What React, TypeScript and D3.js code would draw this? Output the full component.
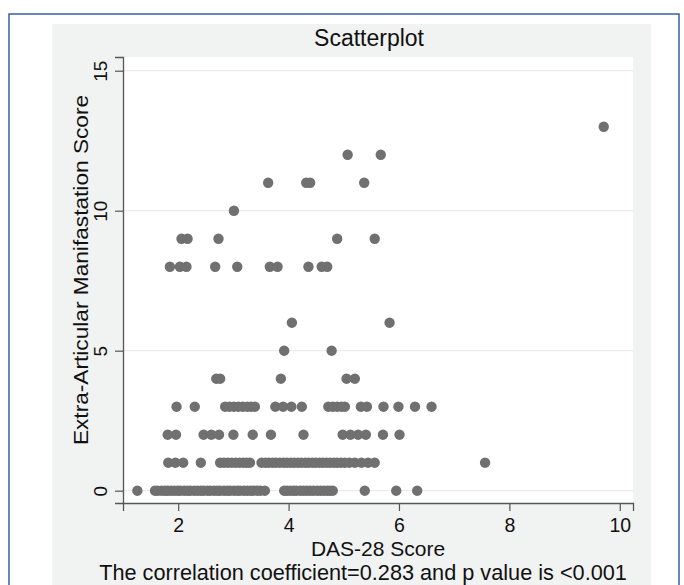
import React, { useEffect, useRef } from 'react';
import * as d3 from 'd3';

// DAS-28 score of each patient, grouped by extra-articular manifestation score
const das0 = [1.26, 1.58, 1.63, 1.70, 1.76, 1.81, 1.87, 1.93, 1.99, 2.04, 2.11, 2.17, 2.22, 2.29, 2.35, 2.41, 2.46,
  2.53, 2.58, 2.65, 2.71, 2.76, 2.83, 2.89, 2.94, 3.01, 3.07, 3.12, 3.19, 3.25, 3.31, 3.36, 3.43, 3.49, 3.57,
  3.92, 3.97, 4.03, 4.09, 4.14, 4.21, 4.27, 4.33, 4.39, 4.45, 4.52, 4.58, 4.64, 4.70, 4.75, 4.80, 5.38, 5.95, 6.33];
const das1 = [1.82, 1.95, 2.09, 2.41, 2.76, 2.83, 2.90, 2.97, 3.04, 3.11, 3.18, 3.24, 3.30, 3.51, 3.58, 3.64, 3.71,
  3.77, 3.84, 3.91, 3.97, 4.04, 4.10, 4.17, 4.23, 4.30, 4.36, 4.43, 4.49, 4.56, 4.62, 4.69, 4.75, 4.82, 4.88, 4.95,
  5.02, 5.10, 5.20, 5.32, 5.44, 5.56, 7.56];
const das2 = [1.81, 1.96, 2.46, 2.60, 2.74, 3.00, 3.35, 3.68, 4.27, 4.98, 5.12, 5.26, 5.40, 5.71, 6.01];
const das3 = [1.97, 2.30, 2.85, 2.93, 3.01, 3.09, 3.17, 3.25, 3.32, 3.39, 3.76, 3.90, 4.05, 4.24, 4.72, 4.80,
  4.88, 4.96, 5.02, 5.31, 5.42, 5.72, 5.99, 6.29, 6.59];
const das4 = [2.69, 2.76, 3.86, 5.05, 5.20];
const das5 = [3.92, 4.78];
const das6 = [4.06, 5.83];
const das8 = [1.85, 2.03, 2.15, 2.67, 3.07, 3.66, 3.80, 4.36, 4.60, 4.70];
const das9 = [2.06, 2.17, 2.73, 4.88, 5.56];
const das10 = [3.01];
const das11 = [3.63, 4.32, 4.39, 5.37];
const das12 = [5.07, 5.67];
const das13 = [9.71];

const eamLevels = [0, 1, 2, 3, 4, 5, 6, 8, 9, 10, 11, 12, 13];
const dasGroups = [das0, das1, das2, das3, das4, das5, das6, das8, das9, das10, das11, das12, das13];

const xTicks = [2, 4, 6, 8, 10];
const yTicks = [0, 5, 10, 15];

const title = 'Scatterplot';
const xTitle = 'DAS-28 Score';
const yTitle = 'Extra-Articular Manifastation Score';
const note = 'The correlation coefficient=0.283 and p value is <0.001';

export default function App() {
  const chartRef = useRef<SVGSVGElement>(null);

  useEffect(() => {
    document.body.style.margin = '0';
    const width = 684;
    const height = 585;
    const font = '"Liberation Sans", Arial, Helvetica, sans-serif';

    const svg = d3.select(chartRef.current);
    svg.selectAll('*').remove();
    svg.attr('width', width).attr('height', height);

    // outer frame + stata grey panel
    svg.append('rect').attr('width', width).attr('height', height).attr('fill', '#fff');
    svg.append('rect')
      .attr('x', 9).attr('y', 14).attr('width', 670).attr('height', 600)
      .attr('fill', '#fff').attr('stroke', '#3d5ea6').attr('stroke-width', 1.5);
    svg.append('rect')
      .attr('x', 52).attr('y', 24).attr('width', 599).attr('height', 580)
      .attr('fill', '#f1f2f2');

    const xScale = d3.scaleLinear().domain([1, 10.24]).range([123, 633]);
    const yScale = d3.scaleLinear().domain([-0.44, 15.49]).range([503, 57]);
    const [x0, x1] = xScale.range();
    const [y0, y1] = yScale.range();

    svg.append('rect')
      .attr('x', x0).attr('y', y1).attr('width', x1 - x0).attr('height', y0 - y1)
      .attr('fill', '#fff');

    // gridlines
    svg.append('g').selectAll('line').data(yTicks).enter().append('line')
      .attr('x1', x0).attr('x2', x1)
      .attr('y1', d => yScale(d)).attr('y2', d => yScale(d))
      .attr('stroke', '#ececec').attr('stroke-width', 1.2);

    // x axis
    const xAxis = d3.axisBottom(xScale).tickValues(xTicks).tickSize(8).tickPadding(7);
    const gx = svg.append('g').attr('transform', `translate(0, ${y0})`).call(xAxis);
    gx.select('.domain').attr('stroke', '#555').attr('stroke-width', 1.3);
    gx.selectAll('.tick line').attr('stroke', '#555').attr('stroke-width', 1.2);
    gx.selectAll('.tick text')
      .attr('font-family', font).attr('font-size', 19.5).attr('fill', '#111');

    // y axis, labels turned like stata does
    const yAxis = d3.axisLeft(yScale).tickValues(yTicks).tickSize(8).tickPadding(0).tickFormat(d3.format('d'));
    const gy = svg.append('g').attr('transform', `translate(${x0}, 0)`).call(yAxis);
    gy.select('.domain').attr('stroke', '#555').attr('stroke-width', 1.3);
    gy.selectAll('.tick line').attr('stroke', '#555').attr('stroke-width', 1.2);
    gy.selectAll('.tick text')
      .attr('font-family', font).attr('font-size', 19).attr('fill', '#111')
      .attr('x', null).attr('dy', null)
      .attr('text-anchor', 'middle')
      .attr('transform', 'translate(-16, 0) rotate(-90)');

    // points
    const points = eamLevels.flatMap((lvl, i) => dasGroups[i].map(v => ({ x: v, y: lvl })));
    svg.append('g').selectAll('circle').data(points).enter().append('circle')
      .attr('cx', d => xScale(d.x))
      .attr('cy', d => yScale(d.y))
      .attr('r', 5.2)
      .attr('fill', '#707070');

    // texts (the source picture is a little stretched vertically)
    const addText = (str: string, x: number, y: number, size: number, transform: string) =>
      svg.append('text')
        .attr('transform', `translate(${x}, ${y}) ${transform}`)
        .attr('text-anchor', 'middle').attr('font-family', font).attr('font-size', size).attr('fill', '#111')
        .text(str);

    addText(title, (x0 + x1) / 2 - 9, 46, 23, 'scale(1, 1.08)');
    addText(xTitle, (x0 + x1) / 2, 555.5, 21, '');
    addText(yTitle, 88, 270, 21, 'rotate(-90) scale(1.08, 1)');
    addText(note, (x0 + x1) / 2 - 15, 580, 21.7, '');
  }, []);

  return <svg ref={chartRef} />;
}
